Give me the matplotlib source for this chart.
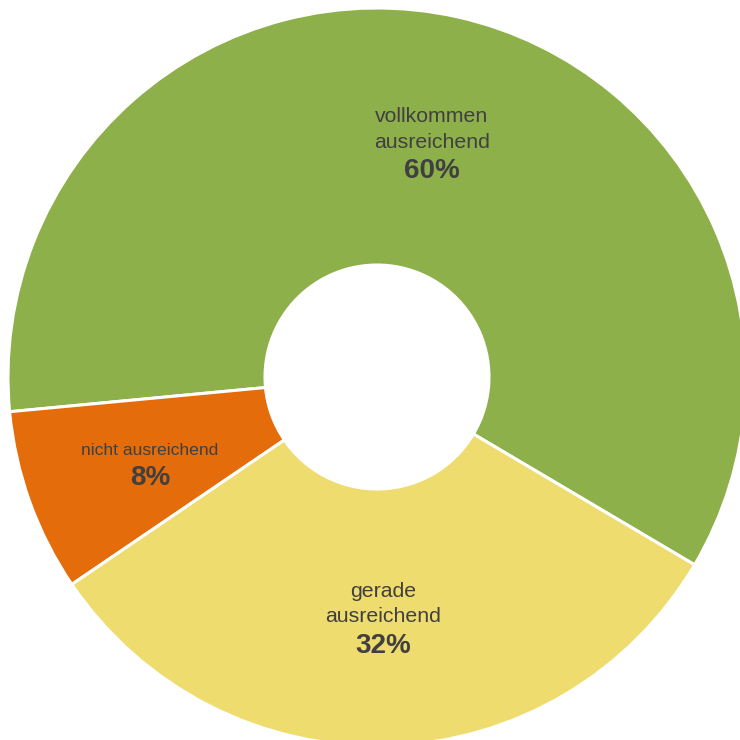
import matplotlib
matplotlib.use("Agg")
import matplotlib.pyplot as plt

plt.rcParams['font.family'] = ['Liberation Sans', 'DejaVu Sans']

# data
labels = ["vollkommen\nausreichend", "nicht ausreichend", "gerade\nausreichend"]
values = [60, 8, 32]
colors = ["#8DB04A", "#E46C0A", "#EFDC6F"]
pct_text = ["60%", "8%", "32%"]

W = 740
fig = plt.figure(figsize=(7.4, 7.4), dpi=100)
ax = fig.add_axes([0, 0, 1, 1])

cx, cy = 377, W - 377
R = 369
hole = 112
ax.pie(values, colors=colors, startangle=-30.6, counterclock=True,
       center=(cx, cy), radius=R, frame=True,
       wedgeprops=dict(width=R - hole, edgecolor='white', linewidth=2.2))
ax.set_xlim(0, W)
ax.set_ylim(0, W)
ax.set_aspect('equal')
ax.axis('off')

# label anchors: x centre, baseline of first line, baseline of percent (picture px, top origin)
pos = [(432, 122, 178), (150, 455, 485), (383, 597, 653)]
sizes = [15.3, 12.6, 15.3]
line_gap = 25.5
for lab, p, (x, y0, yp), fs in zip(labels, pct_text, pos, sizes):
    for i, line in enumerate(lab.split("\n")):
        ax.text(x, W - (y0 + i * line_gap), line, ha='center', va='baseline',
                fontsize=fs, color='#404040')
    ax.text(x, W - yp, p, ha='center', va='baseline', fontsize=20,
            fontweight='bold', color='#404040')

fig.savefig("out.png", dpi=100)
